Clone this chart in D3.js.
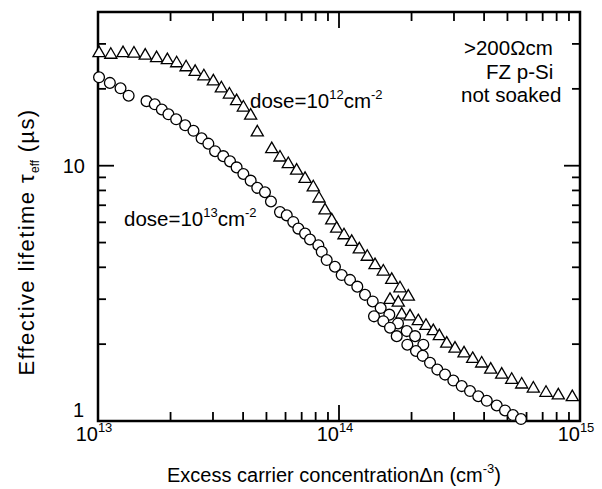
<!DOCTYPE html>
<html><head><meta charset="utf-8">
<script src="https://cdn.jsdelivr.net/npm/d3@7"></script>
<style>body{margin:0;background:#fff}svg{display:block}text{font-family:"Liberation Sans",Arial,Helvetica,sans-serif;fill:#000}</style>
</head><body>
<script>
// dose = 1e12 cm^-2 (triangles)
const dose12N = [1.01,1.13,1.27,1.41,1.57,1.75,1.94,2.12,2.32,2.53,2.75,3.01,3.25,3.51,3.76,4.01,4.30,4.58,
  5.26,5.69,6.16,6.67,7.23,7.82,8.26,8.75,9.33,9.78,10.49,11.29,12.14,13.10,14.11,15.27,16.55,17.91,19.39,
  16.28,17.62,18.21,19.71,21.33,22.96,24.62,26.08,27.99,30.29,33.02,35.87,39.09,42.61,47.33,52.07,57.30,64.02,72.27,81.28,92.9].map(v=>v*1e13);
const dose12Tau = [27.6,27.2,27.6,27.5,27.0,26.4,25.9,25.2,24.3,23.3,22.4,21.4,20.1,19.0,17.9,16.9,15.7,13.5,
  11.61,10.77,10.15,9.56,8.88,8.23,7.44,6.68,6.11,5.67,5.34,5.03,4.70,4.40,4.08,3.85,3.57,3.31,3.07,
  2.98,2.91,2.61,2.57,2.46,2.36,2.25,2.15,2.01,1.92,1.84,1.75,1.68,1.59,1.52,1.45,1.39,1.34,1.29,1.26,1.24];
// dose = 1e13 cm^-2 (circles)
const dose13N = [1.01,1.12,1.24,1.34,
  1.59,1.72,1.84,1.96,2.11,2.30,2.49,2.69,2.87,3.06,3.31,3.53,3.76,4.01,4.30,4.58,4.93,5.22,5.69,6.07,6.46,6.78,7.23,7.58,8.21,8.48,8.89,9.62,10.26,11.11,11.91,12.82,13.80,14.89,16.17,17.57,19.10,20.68,22.38,
  13.97,15.27,16.28,17.36,19.21,20.87,22.25,23.86,25.58,27.54,29.81,32.29,34.96,37.84,41.03,45.13,48.85,52.7,56.9].map(v=>v*1e13);
const dose13Tau = [22.2,21.1,20.1,18.8,
  17.9,17.4,16.6,15.9,15.2,14.4,13.7,12.8,12.2,11.4,10.9,10.4,9.85,9.28,8.74,8.19,7.87,7.24,6.58,6.39,6.02,5.67,5.42,5.14,4.88,4.60,4.27,4.02,3.73,3.57,3.36,3.12,2.94,2.77,2.61,2.41,2.25,2.15,1.99,
  2.57,2.46,2.32,2.15,1.99,1.88,1.80,1.69,1.59,1.52,1.44,1.37,1.31,1.25,1.20,1.15,1.10,1.055,1.018];
const xMajor = [1e13,1e14,1e15];
const xMajorExp = ["13","14","15"];
const yMajor = [1,10];
const yMajorLabels = ["1","10"];
const yMinor = [2,3,4,5,6,7,8,9,20,30];

const W=602,H=489;
const L=98,R=580,T=12,B=421;
const svg=d3.select("body").append("svg").attr("width",W).attr("height",H);
const x=d3.scaleLog().domain([1e13,1e15]).range([L,R]);
const y=d3.scaleLog().domain([1,40]).range([B,T]);

const xMinor=[];
for(let e=13;e<15;e++) for(let k=2;k<=9;k++) xMinor.push(k*Math.pow(10,e));

const g=svg.append("g");
function tickX(v,len,yBase,dir){g.append("line").attr("x1",x(v)).attr("x2",x(v)).attr("y1",yBase).attr("y2",yBase+dir*len).attr("stroke","#000").attr("stroke-width",1.8);}
function tickY(v,len,xBase,dir){g.append("line").attr("y1",y(v)).attr("y2",y(v)).attr("x1",xBase).attr("x2",xBase+dir*len).attr("stroke","#000").attr("stroke-width",1.8);}
xMinor.forEach(v=>{tickX(v,9,B,-1);tickX(v,9,T,1);});
xMajor.forEach(v=>{tickX(v,16,B,-1);tickX(v,16,T,1);});
yMinor.forEach(v=>{tickY(v,8,L,1);tickY(v,8,R,-1);});
yMajor.forEach(v=>{tickY(v,16,L,1);tickY(v,16,R,-1);});
g.append("rect").attr("x",L).attr("y",T).attr("width",R-L).attr("height",B-T).attr("fill","none").attr("stroke","#000").attr("stroke-width",2.5);

// tick labels
xMajor.forEach((v,i)=>{
  const t=svg.append("text").attr("x",x(v)-4).attr("y",441).attr("text-anchor","middle").attr("font-size",20);
  t.append("tspan").text("10");
  t.append("tspan").attr("dy",-9).attr("font-size",13).text(xMajorExp[i]);
});
svg.append("text").attr("x",85).attr("y",y(10)+7).attr("text-anchor","end").attr("font-size",20).text(yMajorLabels[1]);
svg.append("text").attr("x",84).attr("y",417).attr("text-anchor","end").attr("font-size",20).text(yMajorLabels[0]);

// axis titles
const xt=svg.append("text").attr("x",334).attr("y",482).attr("text-anchor","middle").attr("font-size",20);
xt.append("tspan").text("Excess carrier concentration\u0394n (cm");
xt.append("tspan").attr("dy",-9).attr("font-size",13).text("-3");
xt.append("tspan").attr("dy",9).text(")");
const yt=svg.append("text").attr("transform","translate(34,242) rotate(-90)").attr("text-anchor","middle").attr("font-size",22).attr("letter-spacing",1.4);
yt.append("tspan").text("Effective lifetime \u03c4");
yt.append("tspan").attr("dy",5).attr("font-size",12).attr("letter-spacing",0).text("eff");
yt.append("tspan").attr("dy",-5).text(" (\u00b5s)");

// annotations
function dose(xp,yp,exp){
  const t=svg.append("text").attr("x",xp).attr("y",yp).attr("font-size",20.5);
  t.append("tspan").text("dose=10");
  t.append("tspan").attr("dy",-9).attr("font-size",13).text(exp);
  t.append("tspan").attr("dy",9).text("cm");
  t.append("tspan").attr("dy",-9).attr("font-size",13).text("-2");
}
dose(250,108,"12");
dose(124,226,"13");
[[">200\u03a9cm",464,55],["FZ p-Si",486,79],["not soaked",461,102]].forEach(d=>{
  svg.append("text").attr("x",d[1]).attr("y",d[2]).attr("font-size",20.5).text(d[0]);
});

// markers
const tri=d3.symbol().type(d3.symbolTriangle).size(64);
svg.append("g").selectAll("path").data(dose12N.map((n,i)=>[n,dose12Tau[i]])).join("path")
  .attr("d",tri).attr("transform",d=>`translate(${x(d[0])},${y(d[1])})`)
  .attr("fill","#fff").attr("stroke","#000").attr("stroke-width",1.3);
svg.append("g").selectAll("circle").data(dose13N.map((n,i)=>[n,dose13Tau[i]])).join("circle")
  .attr("cx",d=>x(d[0])).attr("cy",d=>y(d[1])).attr("r",5.4)
  .attr("fill","#fff").attr("stroke","#000").attr("stroke-width",1.3);
</script>
</body></html>
